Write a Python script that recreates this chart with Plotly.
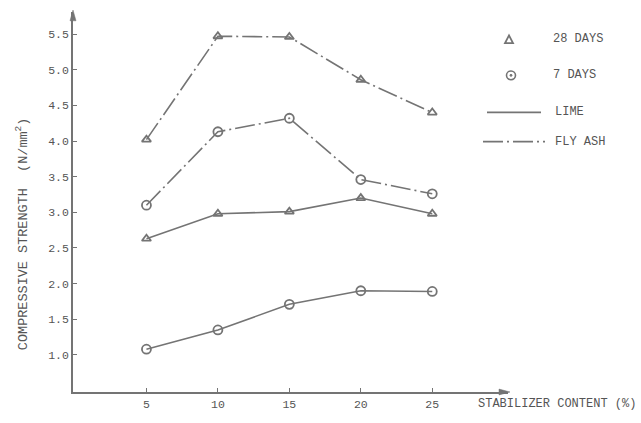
import plotly.graph_objects as go

# Stabilizer content (%) and compressive strength (N/mm^2)
stabilizer = [5, 10, 15, 20, 25]
fly_ash_28 = [4.02, 5.47, 5.46, 4.86, 4.40]
fly_ash_7 = [3.10, 4.13, 4.32, 3.46, 3.26]
lime_28 = [2.63, 2.98, 3.01, 3.20, 2.98]
lime_7 = [1.08, 1.35, 1.71, 1.90, 1.89]

x_ticks = [5, 10, 15, 20, 25]
y_ticks = [1.0, 1.5, 2.0, 2.5, 3.0, 3.5, 4.0, 4.5, 5.0, 5.5]

W, H = 641, 423
ML, MR, MT, MB = 73, 133, 12, 21
X_RANGE = [-0.14, 30.3]
Y_RANGE = [0.48, 5.81]

INK = "#747474"
TXT = "#555555"
FONT = "Liberation Mono"
DASHDOT = "20px,4px,2px,4px"


def xp(px):
    return (px - ML) / (W - ML - MR)


def yp(py):
    return (H - MB - py) / (H - MT - MB)


def series(y, symbol, dash, size):
    return go.Scatter(
        x=stabilizer, y=y, mode="lines+markers",
        line=dict(color=INK, width=1.6, dash=dash),
        marker=dict(symbol=symbol, size=size, color=INK,
                    line=dict(color=INK, width=1.8)),
        showlegend=False, hoverinfo="skip",
    )


fig = go.Figure()
fig.add_trace(series(fly_ash_28, "triangle-up-open", DASHDOT, 8))
fig.add_trace(series(fly_ash_7, "circle-open", DASHDOT, 9))
fig.add_trace(series(lime_28, "triangle-up-open", "solid", 8))
fig.add_trace(series(lime_7, "circle-open", "solid", 9))

axis_common = dict(
    showgrid=False, zeroline=False, showline=True, linecolor=INK, linewidth=1.5,
    ticks="inside", ticklen=4, tickwidth=1.2, tickcolor=INK,
    tickfont=dict(family=FONT, size=11.5, color=TXT),
)
fig.update_xaxes(range=X_RANGE, tickvals=x_ticks, ticktext=[str(v) for v in x_ticks],
                 **axis_common)
fig.update_yaxes(range=Y_RANGE, tickvals=y_ticks, ticktext=[f"{v:.1f}" for v in y_ticks],
                 **axis_common)

annotations = [
    dict(x=xp(22), y=yp(240), xref="paper", yref="paper",
         text="COMPRESSIVE STRENGTH  (N/mm<sup>2</sup>)",
         textangle=-90, showarrow=False, xanchor="center", yanchor="middle",
         font=dict(family=FONT, size=13.5, color=TXT)),
    dict(x=xp(476), y=yp(414), xref="paper", yref="paper", text="STABILIZER CONTENT (%)",
         showarrow=False, xanchor="left", yanchor="middle",
         font=dict(family=FONT, size=12, color=TXT)),
]

# legend text
for label, px, py in [("28 DAYS", 551, 40), ("7 DAYS", 551, 77),
                      ("LIME", 553, 115), ("FLY ASH", 553, 145)]:
    annotations.append(dict(x=xp(px), y=yp(py), xref="paper", yref="paper", text=label,
                            showarrow=False, xanchor="left", yanchor="middle",
                            font=dict(family=FONT, size=12, color=TXT)))

x_end = W - MR
y_top = MT
shapes = [
    # arrow heads at the ends of the axes
    dict(type="path", xref="paper", yref="paper",
         path=f"M {xp(x_end + 2)} {yp(402)} L {xp(x_end - 9)} {yp(399)} "
              f"L {xp(x_end - 9)} {yp(405)} Z",
         line=dict(color=INK, width=0.5), fillcolor=INK),
    dict(type="path", xref="paper", yref="paper",
         path=f"M {xp(ML)} {yp(y_top - 2)} L {xp(ML - 3)} {yp(y_top + 9)} "
              f"L {xp(ML + 3)} {yp(y_top + 9)} Z",
         line=dict(color=INK, width=0.5), fillcolor=INK),
    # legend keys
    dict(type="path", xref="paper", yref="paper",
         path=f"M {xp(505)} {yp(44)} L {xp(513)} {yp(44)} L {xp(509)} {yp(36)} Z",
         line=dict(color=INK, width=1.8)),
    dict(type="circle", xref="paper", yref="paper",
         x0=xp(506.5), x1=xp(515.5), y0=yp(72.5), y1=yp(81.5),
         line=dict(color=INK, width=1.6)),
    dict(type="circle", xref="paper", yref="paper",
         x0=xp(510), x1=xp(512), y0=yp(76), y1=yp(78),
         line=dict(color=INK, width=1), fillcolor=INK),
    dict(type="line", xref="paper", yref="paper",
         x0=xp(487), x1=xp(541), y0=yp(115), y1=yp(115),
         line=dict(color=INK, width=1.6)),
    dict(type="line", xref="paper", yref="paper",
         x0=xp(483), x1=xp(545), y0=yp(145), y1=yp(145),
         line=dict(color=INK, width=1.6, dash=DASHDOT)),
]

fig.update_layout(
    width=W, height=H,
    margin=dict(l=ML, r=MR, t=MT, b=MB),
    paper_bgcolor="white", plot_bgcolor="white",
    annotations=annotations, shapes=shapes,
)

fig.write_html("out.html")
